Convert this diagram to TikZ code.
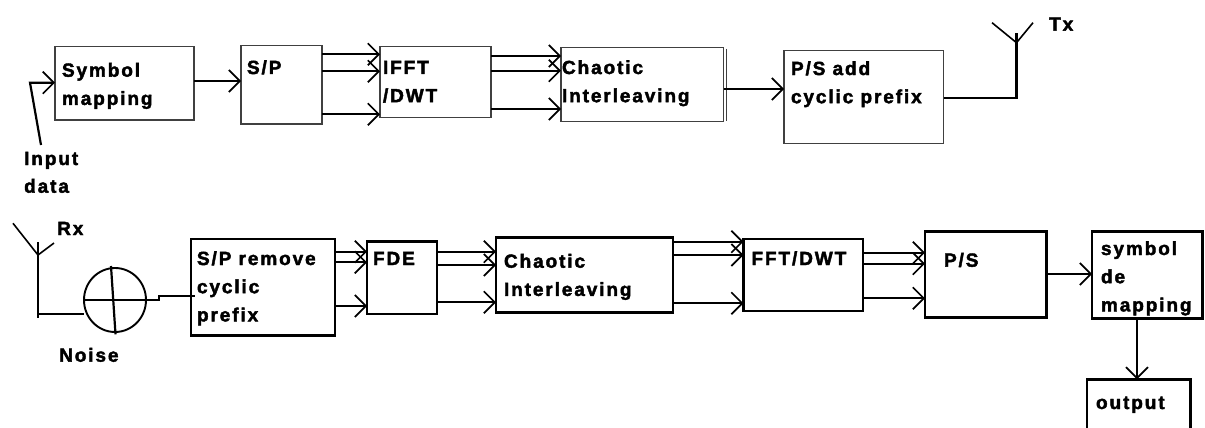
\documentclass[tikz,border=0pt]{standalone}
\usepackage{fontspec}
\setmainfont[LetterSpace=10,BoldFont={Liberation Sans Bold},BoldFeatures={FakeBold=2.2}]{Liberation Sans}
\usetikzlibrary{arrows.meta,shapes.geometric}
\tikzset{
  x=1pt,y=-1pt,
  thin box/.style={draw=black!75,line width=1.5pt},
  thick box/.style={draw=black,line width=2.5pt},
  wire/.style={draw=black,line width=2.2pt},
  antenna/.style={draw=black,line width=1.6pt},
  arrowwire/.style={wire,-{Straight Barb[length=11pt,width=22pt,line width=1.7pt]}},
  plainlabel/.style={inner sep=0pt,anchor=base west,font=\fontsize{19}{19}\selectfont\bfseries},
}
% name, style, x1, y1, x2, y2, text left inset, first baseline inset, text
\newcommand{\bx}[9]{%
  \pgfmathsetlengthmacro{\bw}{#5-#3}\pgfmathsetlengthmacro{\bh}{#6-#4}%
  \node[#2,anchor=north west,inner sep=0pt,outer sep=0pt] (#1) at (#3,#4)
   {\parbox[t][\bh][t]{\bw}{\fontsize{19}{28.2}\selectfont\bfseries\parindent=0pt\leftskip=#7pt\rightskip=-40pt\rule{0pt}{#8pt}#9}};%
}
\begin{document}
\begin{tikzpicture}
\useasboundingbox (0,0) rectangle (1205,428);
% --- transmitter
\bx{sym}{thin box}{55}{46.7}{194}{120}{7}{30}{Symbol\\mapping}
\bx{sp}{thin box}{241}{45.3}{322}{124}{6}{28.7}{S/P}
\bx{ifft}{thin box}{380}{46.7}{491}{117.7}{3}{27.3}{IFFT\\/DWT}
\bx{chaos}{thin box}{561}{47.3}{723.5}{121.3}{1}{26.7}{Chaotic\\Interleaving}
\bx{psadd}{thin box}{784}{50.3}{943.5}{143.3}{7}{24.7}{P/S add\\cyclic prefix}
\draw[thin box] (726.5,48.7) -- (726.5,121.3);
\coordinate (indata) at (41,145);
\coordinate (inbend) at (30,82.7);
\draw[arrowwire] (indata) -- (inbend) -- (inbend -| sym.west);
\node[plainlabel] (inlab1) at (24,165) {Input};
\node[plainlabel] (inlab2) at (24,192.7) {data};
\draw[arrowwire] (sym.east |- 0,81) -- (sp.west |- 0,81);
\foreach \y in {54.3,71.3,114.3} \draw[arrowwire] (sp.east |- 0,\y) -- (ifft.west |- 0,\y);
\foreach \y in {56,70.7,109} \draw[arrowwire] (ifft.east |- 0,\y) -- (chaos.west |- 0,\y);
\draw[arrowwire] (chaos.east |- 0,89) -- (psadd.west |- 0,89);
\coordinate (txbase) at (1016.5,98);
\coordinate (txtop) at (1016.5,32.7);
\coordinate (txfork) at (1016.5,42.7);
\coordinate (txl) at (992,22.7);
\coordinate (txr) at (1033,22.7);
\draw[wire] (psadd.east |- txbase) -- (txbase) -- (txtop);
\draw[antenna] (txl) -- (txfork) -- (txr);
\node[plainlabel] (txlab) at (1049,30.7) {Tx};
% --- receiver
\coordinate (rxtop) at (38,242.3);
\coordinate (rxfork) at (38,255);
\coordinate (rxl) at (13,223.3);
\coordinate (rxr) at (54,243);
\coordinate (rxbase) at (38,318.3);
\draw[wire] (rxtop) -- (rxbase);
\draw[wire] (38,314) -- (84,314);
\draw[antenna] (rxl) -- (rxfork) -- (rxr);
\node[plainlabel] (rxlab) at (57,235) {Rx};
\node[draw=black,line width=1.9pt,ellipse,minimum width=62pt,minimum height=64pt,inner sep=0pt] (noise) at (115,300) {};
\draw[wire] (111,266) -- (115.5,334.3);
\draw[wire] (83,300) -- (159,300) -- (159,295.7) -- (195,295.7);
\node[plainlabel] (noiselab) at (59,361.7) {Noise};
\bx{sprm}{thick box}{191}{239}{335}{335.7}{6}{26}{S/P remove\\cyclic\\prefix}
\bx{fde}{thick box}{367}{241.3}{437}{314}{6}{23.7}{FDE}
\bx{chaosb}{thick box}{496}{237.7}{673}{312.3}{8}{30}{Chaotic\\Interleaving}
\bx{fft}{thick box}{743.5}{239}{863}{311}{8}{26}{FFT/DWT}
\bx{ps}{thick box}{925}{231.3}{1046.5}{317.7}{19}{35.4}{P/S}
\bx{symde}{thick box}{1092}{231.3}{1202.5}{318.7}{9}{23.7}{symbol\\de\\mapping}
\bx{out}{thick box}{1087}{379.3}{1190.5}{440}{9}{29.7}{output}
\foreach \y in {251.7,262.3,306} \draw[arrowwire] (sprm.east |- 0,\y) -- (fde.west |- 0,\y);
\foreach \y in {251.7,265,302.3} \draw[arrowwire] (fde.east |- 0,\y) -- (chaosb.west |- 0,\y);
\foreach \y in {241.7,255,303.3} \draw[arrowwire] (chaosb.east |- 0,\y) -- (fft.west |- 0,\y);
\foreach \y in {252.7,263.7,298.3} \draw[arrowwire] (fft.east |- 0,\y) -- (ps.west |- 0,\y);
\draw[arrowwire] (ps.east |- 0,274) -- (symde.west |- 0,274);
\draw[arrowwire] (symde.south -| 1137,0) -- (out.north -| 1137,0);
\end{tikzpicture}
\end{document}
